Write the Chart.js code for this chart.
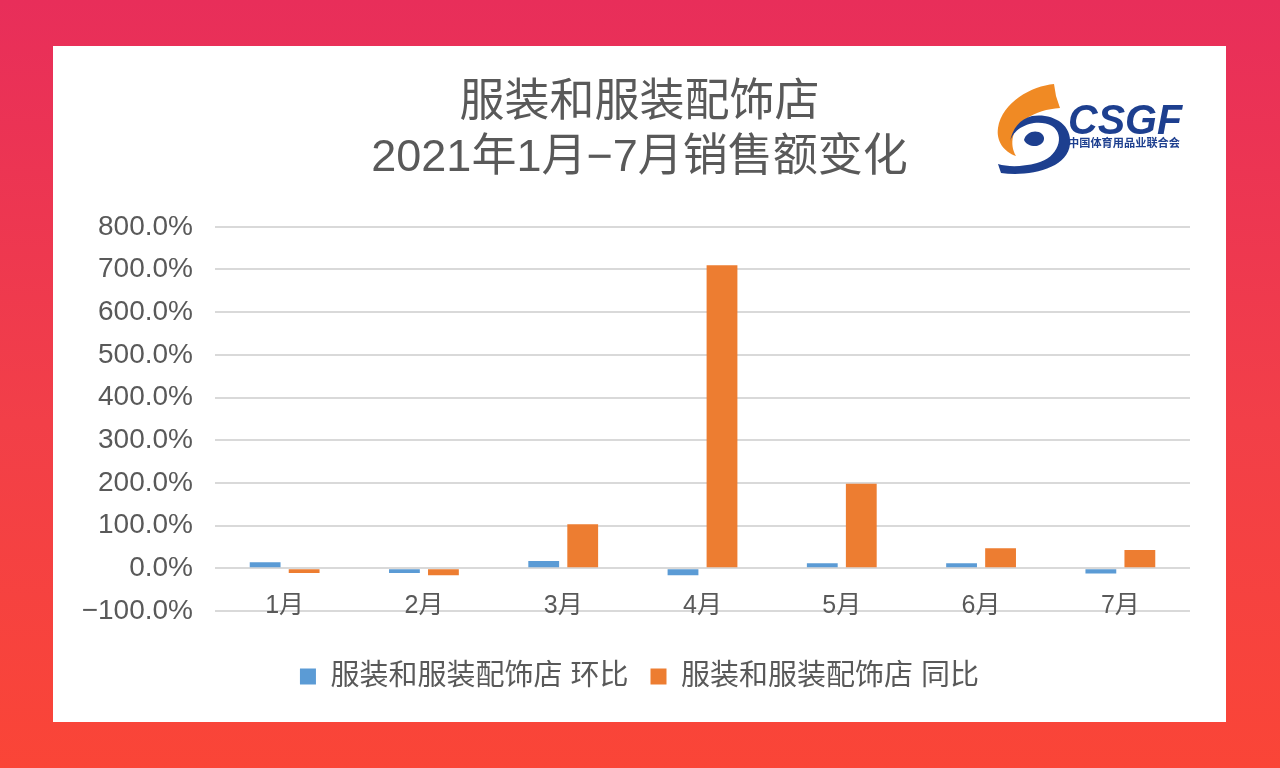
<!DOCTYPE html>
<html>
<head>
<meta charset="utf-8">
<script src="https://cdn.jsdelivr.net/npm/chart.js@4.4.0/dist/chart.umd.min.js"></script>
<style>
    html, body { margin: 0; padding: 0; }
    body {
        width: 1280px;
        height: 768px;
        background: linear-gradient(180deg, #e82e5a 0%, #f23f48 55%, #fa4537 100%);
        position: relative;
        overflow: hidden;
    }
    .panel {
        position: absolute;
        left: 53px;
        top: 46px;
        width: 1173px;
        height: 676px;
        background: #ffffff;
    }
    .logo {
        position: absolute;
        left: 990px;
        top: 78px;
    }
</style>
</head>
<body>
<div class="panel">
    <canvas id="chart" width="1173" height="676"></canvas>
</div>
<svg class="logo" width="200" height="100" viewBox="0 0 200 100">
    <path d="M64,6 C42,8 12,24 8,50 C6,63 14,74 26,78 C19,66 22,50 36,41 C46,34 57,31 70,30 L66,18 Z" fill="#f08a24"/>
    <path d="M20,64 C24,47 48,40 62,48 C76,57 68,80 47,85 C32,89 18,89 8,86 L11,95 C38,99 78,91 80,66 C82,45 61,35 42,38 C30,41 22,51 20,64 Z" fill="#1d3f8f"/>
    <path d="M34,62 C36,54 46,51 52,56 C57,61 52,68 45,68 C40,68 36,66 34,62 Z" fill="#1d3f8f"/>
    <text x="78" y="56" font-family="Liberation Sans, Arial, sans-serif" font-weight="bold" font-style="italic" font-size="42" fill="#1d3f8f" textLength="114" lengthAdjust="spacingAndGlyphs">CSGF</text>
    <text x="78" y="69" font-family="Noto Sans CJK SC, sans-serif" font-weight="bold" font-size="11" fill="#1d3f8f" textLength="112" lengthAdjust="spacingAndGlyphs">中国体育用品业联合会</text>
</svg>
<script>
// chart values
const months = ['1月', '2月', '3月', '4月', '5月', '6月', '7月'];
const seriesNames = ['服装和服装配饰店 环比', '服装和服装配饰店 同比'];
const momValues = [14, -11, 17, -16, 12, 12, -12];     // 环比 (%)
const yoyValues = [-11, -16, 103, 710, 198, 47, 43];   // 同比 (%)
const titleLines = ['服装和服装配饰店', '2021年1月\u22127月销售额变化'];

const FONT = "'Liberation Sans', 'Noto Sans CJK SC', sans-serif";
const TEXT_COLOR = '#595959';

// Excel puts the month labels on top of the lowest gridline, draw them there
const monthLabels = {
    id: 'monthLabels',
    afterDraw(chart) {
        const { ctx, chartArea, scales } = chart;
        ctx.save();
        ctx.fillStyle = TEXT_COLOR;
        ctx.font = '25px ' + FONT;
        ctx.textAlign = 'center';
        ctx.textBaseline = 'middle';
        chart.data.labels.forEach((label, i) => {
            ctx.fillText(label, scales.x.getPixelForValue(i), chartArea.bottom - 5);
        });
        ctx.restore();
    },
};

const ctx = document.getElementById('chart');

new Chart(ctx, {
    type: 'bar',
    data: {
        labels: months,
        datasets: [
            {
                label: seriesNames[0],
                data: momValues,
                backgroundColor: '#5b9bd5',
                barPercentage: 0.79,
                categoryPercentage: 0.56,
            },
            {
                label: seriesNames[1],
                data: yoyValues,
                backgroundColor: '#ed7d31',
                barPercentage: 0.79,
                categoryPercentage: 0.56,
            },
        ],
    },
    options: {
        responsive: false,
        animation: false,
        layout: {
            // symmetric side padding keeps title and legend centred on the panel
            padding: { left: 18, right: 18, top: 30, bottom: 21 },
        },
        plugins: {
            title: {
                display: true,
                text: titleLines,
                color: TEXT_COLOR,
                font: { family: FONT, size: 45, weight: 'normal', lineHeight: 1.22 },
                padding: { top: 0, bottom: 41 },
            },
            legend: {
                position: 'bottom',
                labels: {
                    color: TEXT_COLOR,
                    font: { family: FONT, size: 29 },
                    boxWidth: 16,
                    boxHeight: 16,
                    padding: 22,
                },
            },
            tooltip: { enabled: false },
        },
        scales: {
            x: {
                grid: { display: false, drawTicks: false },
                border: { display: false },
                ticks: { display: false },
                afterFit: (scale) => { scale.height = 29; },
            },
            y: {
                min: -100,
                max: 800,
                grid: { color: '#d9d9d9', lineWidth: 2, drawTicks: false },
                border: { display: false },
                ticks: {
                    stepSize: 100,
                    color: TEXT_COLOR,
                    font: { family: FONT, size: 28 },
                    padding: 22,
                    callback: (v) => (v < 0 ? '\u2212' : '') + Math.abs(v).toFixed(1) + '%',
                },
                afterFit: (scale) => { scale.width = 144; },
            },
            // empty spacer on the right so the plot ends where the reference does
            spacer: {
                position: 'right',
                grid: { display: false, drawTicks: false },
                border: { display: false },
                ticks: { display: false },
                afterFit: (scale) => { scale.width = 18; },
            },
        },
    },
    plugins: [monthLabels],
});
</script>
</body>
</html>
